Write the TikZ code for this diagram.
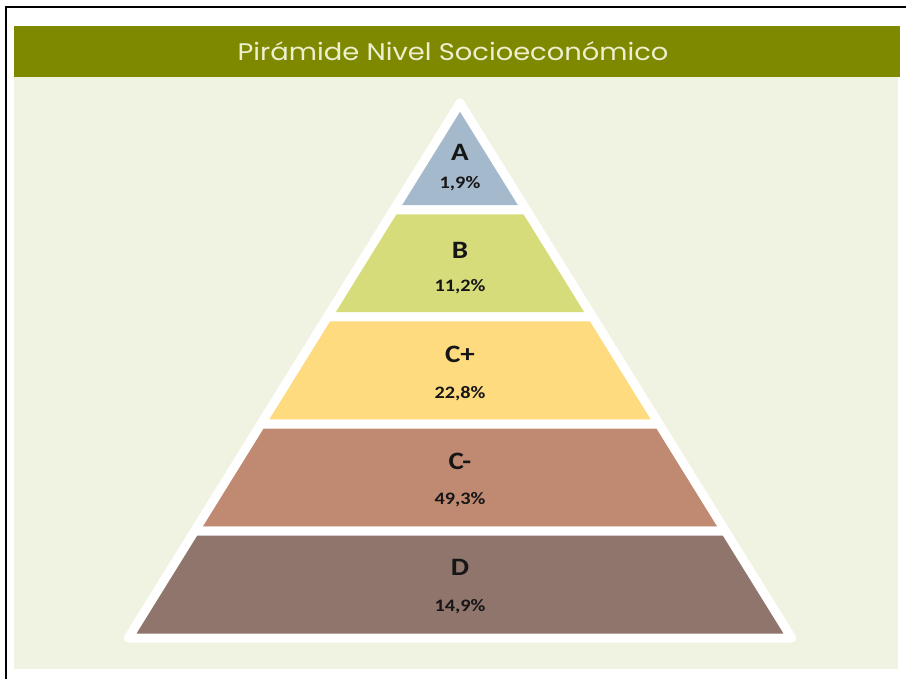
\documentclass[tikz,border=0pt]{standalone}
\usepackage{fontspec}
\setmainfont{Carlito}
\newfontfamily\titlefont{Poppins}
\definecolor{headgreen}{RGB}{127,137,0}
\definecolor{titletext}{RGB}{236,240,208}
\definecolor{panel}{RGB}{240,243,226}
\definecolor{tierA}{RGB}{165,185,205}
\definecolor{tierB}{RGB}{214,220,122}
\definecolor{tierCp}{RGB}{255,219,128}
\definecolor{tierCm}{RGB}{192,138,114}
\definecolor{tierD}{RGB}{143,117,107}
\definecolor{labeltext}{RGB}{22,22,22}
\tikzset{
	tierbox/.style={draw=white, line width=9pt, line join=round},
	letter/.style={font=\bfseries\fontsize{25}{28}\selectfont, text=labeltext},
	pct/.style={font=\bfseries\fontsize{17.5}{20}\selectfont, text=labeltext}
}
% #1 top, #2 bottom, #3 colour, #4 name, #5 letter, #6 its y, #7 share, #8 its y
\newcommand{\tier}[8]{
	\draw[tierbox, fill=#3]({460-(#1-103)*0.62},#1)--({460+(#1-103)*0.62},#1)--({460+(#2-103)*0.62},#2)--({460-(#2-103)*0.62},#2)--cycle;
	\node[letter](lbl#4) at (460,#6){\scalebox{1.16}[1]{#5}};
	\node[pct](pct#4) at (460,#8){\scalebox{1.16}[1]{#7}};
}

\begin{document}
\begin{tikzpicture}[x=1pt, y=-1pt]
		\useasboundingbox[fill=white](0,0) rectangle (906,679);
		\draw[line width=2.5pt](6,679)--(6,7)--(906,7);
		\fill[panel](14,77) rectangle (898,669);
		\fill[headgreen](14,26) rectangle (900,77);
		\node[font=\titlefont\fontsize{24}{26}\selectfont, text=titletext](title) at (453,51){\scalebox{1.14}[1]{Pirámide Nivel Socioeconómico}};
		\tier{103}{210}{tierA}{A}{A}{152}{1,9\%}{184};
		\tier{210}{317}{tierB}{B}{B}{250}{11,2\%}{287};
		\tier{317}{424}{tierCp}{Cp}{C+}{354}{22,8\%}{394};
		\tier{424}{531}{tierCm}{Cm}{C-}{461}{49,3\%}{500};
		\tier{531}{638}{tierD}{D}{D}{567}{14,9\%}{607};
	\end{tikzpicture}
\end{document}
